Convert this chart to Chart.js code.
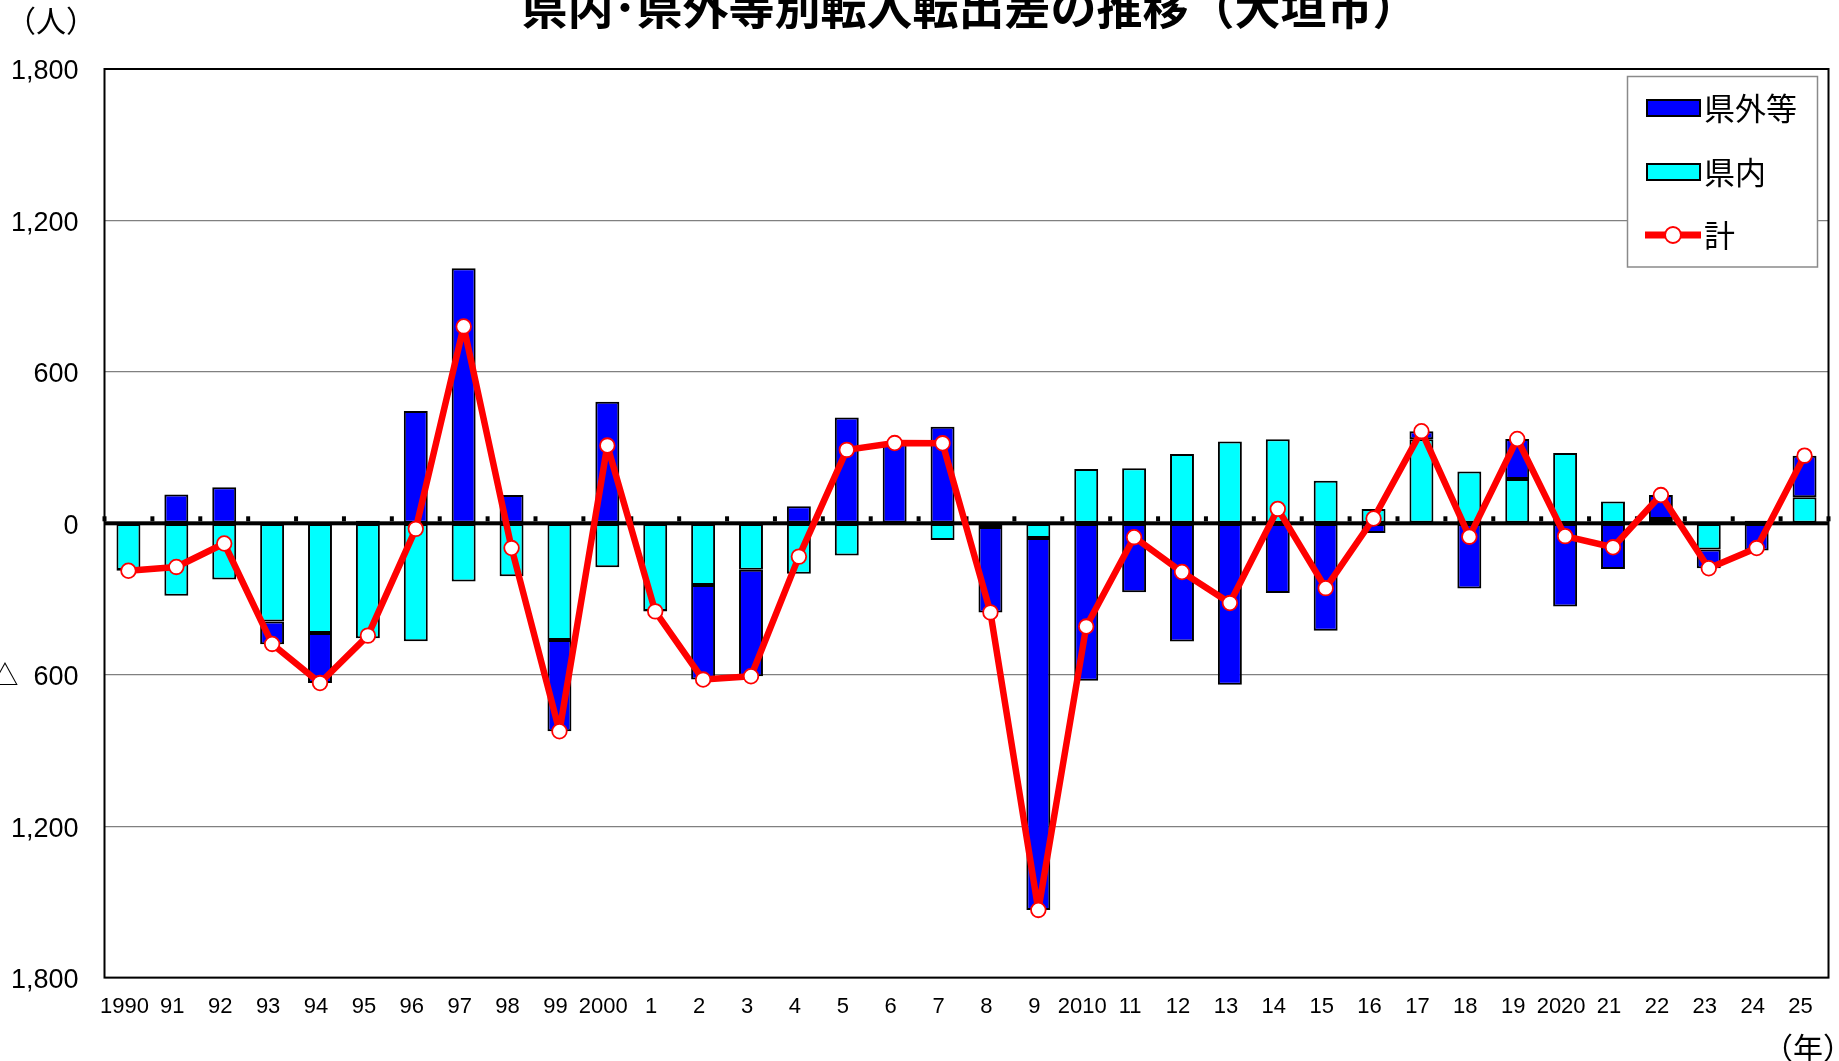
<!DOCTYPE html>
<html>
<head>
<meta charset="utf-8">
<script src="https://cdn.jsdelivr.net/npm/chart.js@4.4.1/dist/chart.umd.min.js"></script>
<style>
html,body{margin:0;padding:0;background:#ffffff;overflow:hidden;}
canvas{display:block;}
</style>
</head>
<body>
<canvas id="c" width="1839" height="1061"></canvas>
<script>
// ---- data ----
const categories = ['1990','91','92','93','94','95','96','97','98','99',
  '2000','1','2','3','4','5','6','7','8','9',
  '2010','11','12','13','14','15','16','17','18','19',
  '2020','21','22','23','24','25'];

// 県内 (within the prefecture)
const inPref = [-185,-287,-223,-389,-435,-455,-467,-231,-210,-462,
  -174,-347,-244,-184,-200,-128,-3,-66,-15,-58,
  215,218,275,324,333,169,57,333,205,176,
  279,86,17,-104,10,103];

// 県外等 (outside the prefecture etc.)
const outPref = [-3,114,143,-90,-198,10,445,1011,112,-362,
  482,-2,-375,-422,68,419,321,383,-338,-1474,
  -624,-273,-468,-640,-276,-426,-38,32,-258,158,
  -330,-181,95,-74,-108,165];

// 計 (total)
const totals = [-188,-173,-80,-478,-633,-445,-22,780,-98,-824,
  308,-349,-619,-606,-132,291,318,317,-353,-1532,
  -409,-55,-193,-316,57,-257,19,365,-53,334,
  -51,-95,112,-178,-98,268];

const yTickValues = [-1800,-1200,-600,0,600,1200,1800];
const yTickLabels = ['△  1,800','△  1,200','△  600','0','600','1,200','1,800'];
const seriesNames = {out:'県外等', inn:'県内', total:'計'};
const titleText = '県内･県外等別転入転出差の推移（大垣市）';
const yUnitText = '（人）';
const xUnitText = '（年）';

const BLUE = '#0000FF', CYAN = '#00FFFF', RED = '#FF0000';
const CJK = '"Noto Sans CJK JP", "Noto Sans CJK SC", sans-serif';

const decor = {
  id: 'decor',
  beforeDatasetDraw(chart, args) {
    if (args.meta.type !== 'line') return;
    const {ctx, chartArea: a, scales: {x, y}} = chart;
    const y0 = y.getPixelForValue(0);
    ctx.save();
    ctx.fillStyle = '#000';
    // zero axis line
    ctx.fillRect(a.left, y0 - 2, a.right - a.left, 4);
    // category boundary tick marks on the zero axis
    const half = (x.getPixelForValue(1) - x.getPixelForValue(0)) / 2;
    for (let i = 0; i <= categories.length; i++) {
      const px = i < categories.length ? x.getPixelForValue(i) - half
                                       : x.getPixelForValue(i - 1) + half;
      ctx.fillRect(px - 2, y0 - 7, 4, 5);
    }
    // plot border
    ctx.lineWidth = 2;
    ctx.strokeStyle = '#000';
    ctx.strokeRect(a.left, a.top, a.right - a.left, a.bottom - a.top);
    ctx.restore();
  },
  afterDraw(chart) {
    const ctx = chart.ctx;
    ctx.save();
    // title (top clipped like the reference)
    ctx.fillStyle = '#000';
    ctx.font = 'bold 46px ' + CJK;
    ctx.textAlign = 'center';
    ctx.textBaseline = 'alphabetic';
    ctx.fillText(titleText, 970, 24);
    // unit labels
    ctx.font = '30px ' + CJK;
    ctx.fillText(yUnitText, 51, 32);
    ctx.fillText(xUnitText, 1808, 1059);

    // legend
    const ds = chart.data.datasets;
    const bx = 1627.5, by = 76.5, bw = 190, bh = 190.5;
    ctx.fillStyle = '#fff';
    ctx.fillRect(bx, by, bw, bh);
    ctx.lineWidth = 1.5;
    ctx.strokeStyle = '#8a8a8a';
    ctx.strokeRect(bx, by, bw, bh);

    const items = [
      {ds: ds[2], cy: 108},
      {ds: ds[1], cy: 172},
      {ds: ds[0], cy: 235}
    ];
    ctx.font = '31px ' + CJK;
    ctx.textAlign = 'left';
    ctx.textBaseline = 'middle';
    items.forEach(it => {
      const d = it.ds;
      if (d.type === 'line') {
        ctx.strokeStyle = d.borderColor;
        ctx.lineWidth = 7;
        ctx.lineCap = 'butt';
        ctx.beginPath();
        ctx.moveTo(1645, it.cy);
        ctx.lineTo(1701, it.cy);
        ctx.stroke();
        ctx.beginPath();
        ctx.arc(1673, it.cy, 8, 0, Math.PI * 2);
        ctx.fillStyle = d.pointBackgroundColor;
        ctx.fill();
        ctx.lineWidth = 2;
        ctx.strokeStyle = d.pointBorderColor;
        ctx.stroke();
      } else {
        ctx.fillStyle = d.backgroundColor;
        ctx.fillRect(1647, it.cy - 8, 53, 16);
        ctx.lineWidth = 2;
        ctx.strokeStyle = '#000';
        ctx.strokeRect(1647, it.cy - 8, 53, 16);
      }
      ctx.fillStyle = '#000';
      ctx.fillText(d.label, 1704, it.cy);
    });
    ctx.restore();
  }
};

Chart.defaults.font.family = '"Liberation Sans", "Noto Sans CJK JP", sans-serif';
Chart.defaults.color = '#000';

new Chart(document.getElementById('c'), {
  data: {
    labels: categories,
    datasets: [
      {
        type: 'line',
        label: seriesNames.total,
        data: totals,
        stack: 'total',
        order: 0,
        borderColor: RED,
        borderWidth: 6.5,
        borderJoinStyle: 'round',
        pointRadius: 7.3,
        pointBackgroundColor: '#FFFFFF',
        pointBorderColor: RED,
        pointBorderWidth: 1.8,
        tension: 0,
        clip: false
      },
      {
        type: 'bar',
        label: seriesNames.inn,
        data: inPref,
        stack: 'pref',
        order: 1,
        backgroundColor: CYAN,
        borderColor: '#000',
        borderWidth: 2,
        borderSkipped: false,
        categoryPercentage: 1,
        barPercentage: 0.5
      },
      {
        type: 'bar',
        label: seriesNames.out,
        data: outPref,
        stack: 'pref',
        order: 1,
        backgroundColor: BLUE,
        borderColor: '#000',
        borderWidth: 2,
        borderSkipped: false,
        categoryPercentage: 1,
        barPercentage: 0.5
      }
    ]
  },
  options: {
    responsive: false,
    devicePixelRatio: 1,
    animation: false,
    events: [],
    layout: { padding: { left: 0, top: 69, right: 10.5, bottom: 0 } },
    plugins: {
      legend: { display: false },
      title: { display: false },
      tooltip: { enabled: false }
    },
    scales: {
      x: {
        stacked: true,
        grid: { display: false, drawTicks: false },
        border: { display: false },
        ticks: {
          autoSkip: false,
          maxRotation: 0,
          padding: 16,
          labelOffset: -4,
          font: { size: 22 },
          color: '#000'
        },
        afterFit(scale) { scale.height = 83.4; }
      },
      y: {
        stacked: true,
        min: -1800,
        max: 1800,
        grid: {
          drawTicks: false,
          color: ctx => (ctx.tick && ctx.tick.value === 0) ? 'rgba(0,0,0,0)' : '#808080',
          lineWidth: 1.2
        },
        border: { display: false },
        ticks: {
          stepSize: 600,
          autoSkip: false,
          padding: 26,
          labelOffset: 3,
          font: { size: 27 },
          color: '#000',
          callback: v => {
            const i = yTickValues.indexOf(v);
            return i >= 0 ? yTickLabels[i] : '';
          }
        },
        afterFit(scale) { scale.width = 104.5; }
      }
    }
  },
  plugins: [decor]
});
</script>
</body>
</html>
